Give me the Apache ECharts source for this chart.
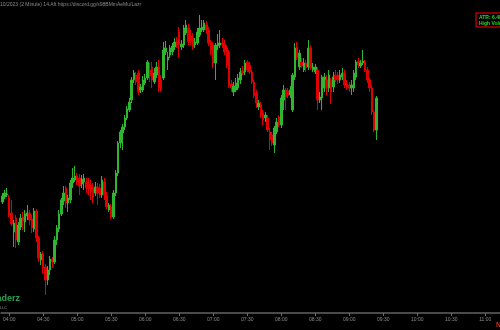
<!DOCTYPE html>
<html><head><meta charset="utf-8">
<script src="https://cdn.jsdelivr.net/npm/echarts@6/dist/echarts.min.js"></script>
<style>html,body{margin:0;padding:0;background:#000;}#c{width:500px;height:330px;}</style>
</head><body><div id="c"></div>
<script>
// 2-minute candles starting 03:54
const startTime = '03:54';
const slotMinutes = 2;
const slotCount = 220;
const tickLabels = ['04:00','04:30','05:00','05:30','06:00','06:30','07:00','07:30','08:00','08:30','09:00','09:30','10:00','10:30','11:00'];

const opens = [111,116,118,115,100,81,95,71,86,96,91,97,100,94,84,102,75,53,59,46,33,43,54,51,73,84,99,112,125,110,113,130,133,137,135,129,131,131,129,128,125,120,126,125,118,131,118,103,106,96,120,140,170,180,186,195,203,213,233,238,240,223,223,230,235,243,246,231,238,246,233,235,261,253,258,261,266,271,281,266,268,280,285,277,275,268,270,278,283,283,288,283,270,268,250,267,268,270,269,265,261,229,221,223,225,233,242,241,251,248,241,231,220,206,208,200,195,195,181,178,168,181,196,188,213,223,222,218,203,236,266,246,251,243,250,246,265,243,241,243,213,215,225,233,225,233,226,238,238,233,236,240,229,228,225,225,236,252,247,250,251,243,233,225,201,183];
const closes = [117,120,119,98,89,90,73,88,95,92,99,100,93,85,102,75,55,59,45,33,43,54,51,73,85,99,113,120,110,115,130,135,137,131,127,134,135,125,124,121,116,126,120,118,133,118,106,108,96,120,140,170,181,186,195,204,211,233,240,231,221,226,233,235,251,237,233,240,246,225,223,263,265,256,265,267,271,268,268,269,285,288,271,271,266,271,281,285,286,290,283,270,263,250,268,270,270,268,261,248,228,225,227,230,235,241,240,250,243,241,231,217,210,210,198,193,198,183,173,170,185,191,188,215,223,216,218,223,238,265,256,260,247,250,245,265,245,246,246,213,216,236,236,225,238,221,236,233,233,238,240,228,226,225,228,240,251,248,250,252,243,233,225,201,183,215];
const highs = [120,123,125,118,113,93,98,91,99,101,103,108,103,98,105,104,77,61,62,49,47,57,56,77,88,103,115,127,127,118,133,145,147,140,139,138,139,135,135,133,130,131,130,129,137,135,121,110,109,123,143,172,183,189,198,207,215,236,243,241,243,229,237,239,253,250,251,245,251,253,238,271,272,261,268,270,275,276,286,273,288,293,289,283,280,275,285,298,293,293,292,286,273,271,270,279,283,275,273,268,263,233,231,235,239,245,247,253,253,251,243,233,223,213,211,203,201,198,185,181,187,195,198,218,228,225,225,227,240,270,271,263,255,255,253,273,268,250,249,246,221,238,240,238,243,235,241,243,241,243,245,243,233,231,233,243,253,255,253,263,253,246,235,228,203,217];
const lows = [109,114,116,96,87,66,65,68,83,83,81,93,88,80,81,71,51,48,39,18,28,38,45,49,68,81,97,108,105,101,110,125,131,128,118,125,123,120,118,113,110,117,108,115,115,113,104,101,94,94,117,137,165,163,183,193,201,210,230,228,218,220,221,228,233,231,225,229,235,221,221,233,258,243,255,258,263,265,255,263,265,278,268,268,263,265,268,276,281,281,279,267,258,245,233,263,265,265,258,245,225,221,217,221,223,229,238,238,241,239,229,215,205,203,195,188,191,181,163,167,160,179,186,185,203,203,215,215,201,233,253,243,245,241,241,243,243,241,239,203,210,203,221,218,221,209,221,231,229,230,233,225,223,221,218,221,233,245,245,248,241,230,221,198,181,173];

function toMin(t){const p=t.split(':');return (+p[0])*60+(+p[1]);}
function fmt(m){const h=Math.floor(m/60),mm=m%60;return (h<10?'0':'')+h+':'+(mm<10?'0':'')+mm;}
const categories = [];
for (let k=0;k<slotCount;k++) categories.push(fmt(toMin(startTime)+k*slotMinutes));
const ohlc = opens.map((o,i)=>[o, closes[i], lows[i], highs[i]]);

const chart = echarts.init(document.getElementById('c'), null, {renderer:'canvas'});
const showTick = (idx, val) => tickLabels.indexOf(val) >= 0;
chart.setOption({
  backgroundColor:'#000000',
  animation:false,
  grid:{left:-1.3, width:502.1, top:0, bottom:17},
  xAxis:{
    type:'category', data:categories, boundaryGap:true,
    axisLine:{show:true, lineStyle:{color:'#4a4a4a', width:2}},
    axisTick:{show:true, interval:showTick, alignWithLabel:true, length:3, lineStyle:{color:'#6a6a6a'}},
    axisLabel:{interval:showTick, color:'#8a8a8a', fontSize:5, margin:4, fontFamily:'Liberation Sans'},
    splitLine:{show:false}
  },
  yAxis:{type:'value', min:0, max:313, show:false, splitLine:{show:false}},
  series:[{
    type:'candlestick', data:ohlc, barWidth:2,
    itemStyle:{color:'#2fb52f', color0:'#e00000', borderColor:'#2fb52f', borderColor0:'#e00000', borderWidth:1}
  }],
  graphic:[
    {type:'text', left:0, top:2, style:{text:'10/2023 (2 Minute) 14.Aft https://discord.gg/s98BMmAeMu/Lazr', fill:'#8a8a8a', font:'5px "Liberation Sans"'}},
    {type:'rect', shape:{x:476, y:13, width:30, height:14}, style:{fill:'#000', stroke:'#b00000', lineWidth:1.5}},
    {type:'text', x:479, y:15, style:{text:'ATR: 6.48', fill:'#22dd22', font:'bold 5px "Liberation Sans"'}},
    {type:'text', x:479, y:21, style:{text:'High Volume', fill:'#22dd22', font:'bold 5px "Liberation Sans"'}},
    {type:'text', x:20, y:294, style:{text:'Traderz', fill:'#2aa050', font:'bold 9px "Liberation Sans"', textAlign:'right'}},
    {type:'text', x:7, y:306, style:{text:'LLC', fill:'#8a8a8a', font:'4px "Liberation Sans"', textAlign:'right'}},
    {type:'text', x:501, y:322, style:{text:'N', fill:'#d03010', font:'bold 7px "Liberation Sans"', textAlign:'right'}}
  ]
});
</script></body></html>
